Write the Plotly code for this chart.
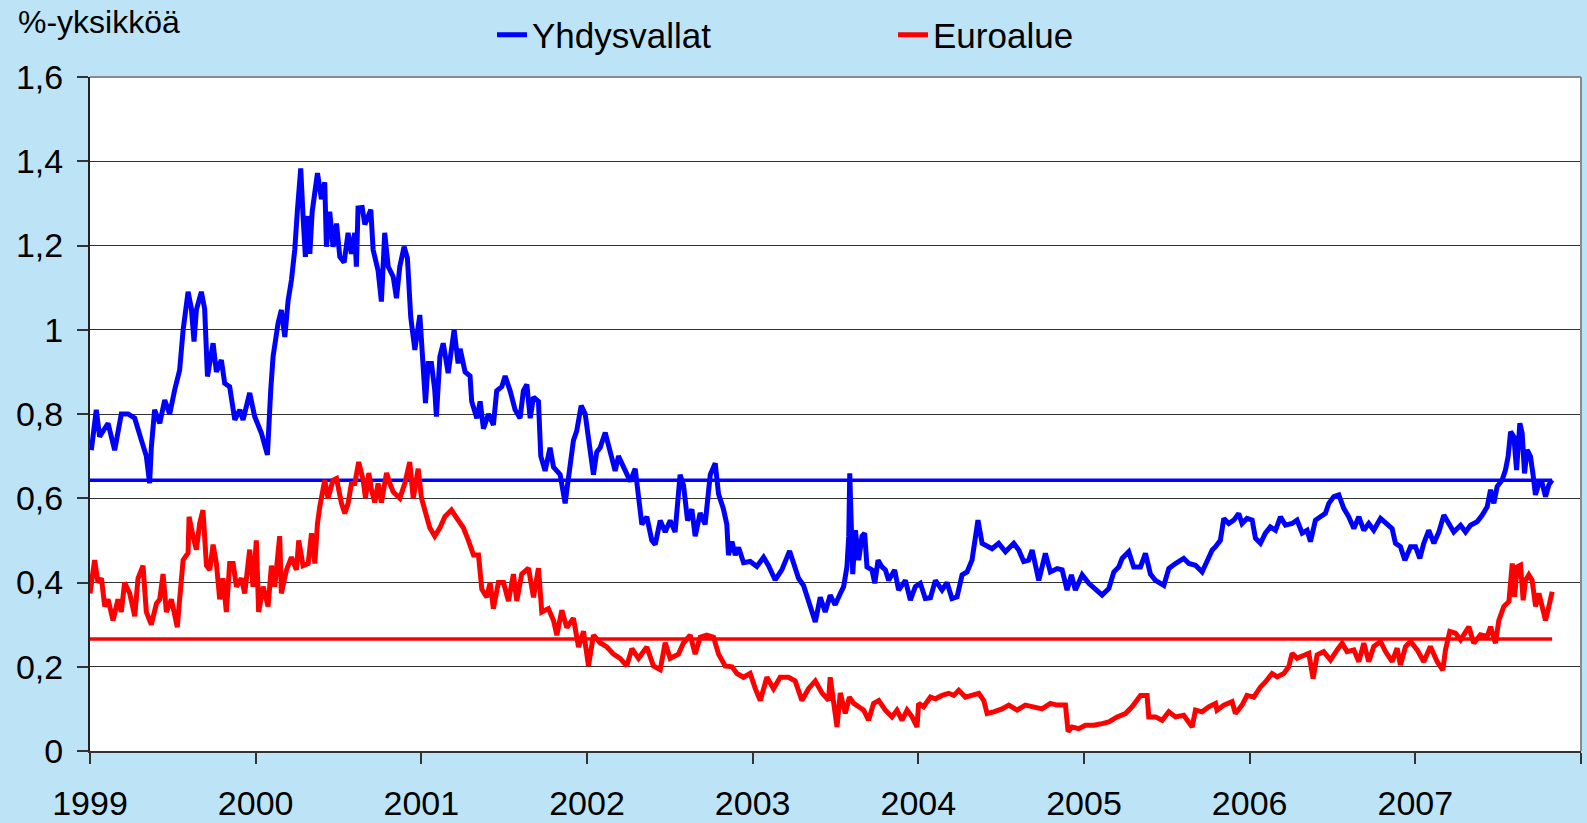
import plotly.graph_objects as go

# ---------------- data (years since 1999, value in %-units) ----------------
us_t = [0.008, 0.038, 0.058, 0.109, 0.149, 0.189, 0.23, 0.27, 0.31, 0.34, 0.36, 0.37, 0.39, 0.421, 0.451,
        0.481, 0.511, 0.541, 0.562, 0.592, 0.612, 0.628, 0.642, 0.672, 0.692, 0.709, 0.743, 0.763, 0.793,
        0.813, 0.843, 0.874, 0.904, 0.924, 0.964, 0.994, 1.035, 1.071, 1.091, 1.105, 1.135, 1.155, 1.176,
        1.196, 1.216, 1.236, 1.252, 1.272, 1.286, 1.3, 1.317, 1.327, 1.341, 1.373, 1.397, 1.417, 1.427,
        1.447, 1.467, 1.488, 1.508, 1.534, 1.558, 1.578, 1.598, 1.608, 1.618, 1.643, 1.659, 1.679, 1.695,
        1.709, 1.739, 1.759, 1.779, 1.8, 1.83, 1.85, 1.87, 1.896, 1.916, 1.936, 1.961, 1.991, 2.011, 2.025,
        2.041, 2.061, 2.081, 2.091, 2.112, 2.132, 2.162, 2.198, 2.222,
        2.234, 2.264, 2.294, 2.304, 2.335, 2.355, 2.375, 2.405, 2.435, 2.455, 2.486, 2.506, 2.536, 2.566,
        2.596, 2.616, 2.637, 2.657, 2.677, 2.707, 2.721, 2.747, 2.777, 2.798, 2.838, 2.868, 2.898, 2.918,
        2.938, 2.965, 2.989, 3.019, 3.039, 3.059, 3.079, 3.11, 3.14, 3.17, 3.19, 3.22, 3.261, 3.291, 3.311,
        3.331, 3.361, 3.391, 3.412, 3.442, 3.472, 3.502, 3.532, 3.562, 3.583, 3.607, 3.633, 3.653, 3.683,
        3.713, 3.744, 3.774, 3.794, 3.824, 3.844, 3.854, 3.875, 3.895, 3.915, 3.945, 3.985, 4.025, 4.066,
        4.096, 4.136, 4.176, 4.223, 4.247, 4.277, 4.307, 4.337, 4.378, 4.408, 4.438, 4.468, 4.498, 4.529,
        4.549, 4.569, 4.58, 4.586, 4.596, 4.604, 4.62, 4.64, 4.66, 4.676, 4.69, 4.72, 4.737, 4.757, 4.781,
        4.801, 4.821, 4.857, 4.881, 4.922, 4.952, 4.982, 5.012, 5.042, 5.073, 5.103, 5.143, 5.173, 5.203,
        5.234, 5.264, 5.294, 5.324, 5.344, 5.36, 5.385, 5.415, 5.445, 5.485, 5.526, 5.576, 5.606, 5.636,
        5.666, 5.687, 5.727, 5.767, 5.797, 5.838, 5.868, 5.898, 5.924, 5.948, 5.989, 6.029, 6.069, 6.109,
        6.15, 6.18, 6.21, 6.23, 6.27, 6.3, 6.341, 6.371, 6.401, 6.431, 6.482, 6.512, 6.552, 6.602, 6.633,
        6.673, 6.713, 6.743, 6.774, 6.794, 6.823, 6.844, 6.874, 6.904, 6.934, 6.954, 6.984, 7.015, 7.035,
        7.065, 7.095, 7.125, 7.156, 7.186, 7.216, 7.256, 7.286, 7.317, 7.347, 7.367, 7.397, 7.427, 7.457,
        7.478, 7.508, 7.538, 7.568, 7.598, 7.629, 7.659, 7.689, 7.719, 7.749, 7.79, 7.83, 7.86, 7.88, 7.91,
        7.937, 7.971, 8.001, 8.027, 8.051, 8.081, 8.112, 8.142, 8.172, 8.202, 8.232, 8.273, 8.303, 8.333,
        8.373, 8.404, 8.434, 8.454, 8.474, 8.494, 8.524, 8.544, 8.56, 8.575, 8.595, 8.611, 8.631, 8.645,
        8.659, 8.675, 8.695, 8.711, 8.725, 8.746, 8.766, 8.786, 8.806, 8.826]
us_v = [0.714, 0.81, 0.746, 0.778, 0.714, 0.80, 0.80, 0.79, 0.738, 0.70, 0.636, 0.72, 0.81, 0.778, 0.833,
        0.80, 0.857, 0.904, 0.999, 1.09, 1.05, 0.972, 1.047, 1.09, 1.05, 0.889, 0.968, 0.90, 0.928,
        0.873, 0.865, 0.786, 0.81, 0.786, 0.85, 0.794, 0.754, 0.703, 0.857, 0.936, 1.015, 1.047, 0.983,
        1.07, 1.118, 1.19, 1.284, 1.383, 1.27, 1.173, 1.27, 1.18, 1.28, 1.372, 1.31, 1.35, 1.197,
        1.28, 1.197, 1.252, 1.173, 1.16, 1.23, 1.18, 1.23, 1.15, 1.289, 1.29, 1.25, 1.27, 1.285,
        1.19, 1.14, 1.067, 1.23, 1.15, 1.126, 1.075, 1.15, 1.197, 1.17, 1.03, 0.952, 1.035, 0.93, 0.826,
        0.92, 0.92, 0.857, 0.794, 0.936, 0.968, 0.897, 1.0, 0.92,
        0.955, 0.90, 0.89, 0.83, 0.79, 0.83, 0.765, 0.80, 0.774, 0.855, 0.865, 0.89, 0.855, 0.81,
        0.79, 0.855, 0.87, 0.79, 0.84, 0.83, 0.70, 0.665, 0.72, 0.674, 0.656, 0.588, 0.674, 0.737,
        0.76, 0.82, 0.80, 0.71, 0.656, 0.71, 0.72, 0.756, 0.71, 0.665, 0.70, 0.674, 0.64, 0.67, 0.61,
        0.538, 0.556, 0.50, 0.49, 0.547, 0.52, 0.547, 0.52, 0.656, 0.63, 0.547, 0.574, 0.51, 0.565,
        0.538, 0.656, 0.683, 0.61, 0.574, 0.538, 0.465, 0.497, 0.465, 0.483, 0.447, 0.45, 0.438, 0.46,
        0.44, 0.406, 0.43, 0.475, 0.447, 0.41, 0.393, 0.356, 0.306, 0.365, 0.33, 0.37, 0.347, 0.374,
        0.39, 0.437, 0.51, 0.659, 0.548, 0.42, 0.524, 0.453, 0.51, 0.517, 0.437, 0.43, 0.398, 0.453, 0.437,
        0.43, 0.405, 0.43, 0.382, 0.405, 0.358, 0.39, 0.398, 0.362, 0.364, 0.405, 0.382, 0.40, 0.362,
        0.366, 0.418, 0.425, 0.453, 0.50, 0.548, 0.493, 0.485, 0.48, 0.493, 0.473, 0.493, 0.477, 0.45,
        0.453, 0.477, 0.405, 0.469, 0.425, 0.433, 0.43, 0.382, 0.418, 0.382, 0.418, 0.398, 0.382, 0.37,
        0.386, 0.425, 0.437, 0.457, 0.473, 0.437, 0.437, 0.469, 0.42, 0.405, 0.393, 0.433, 0.445, 0.457, 0.445,
        0.441, 0.425, 0.45, 0.477, 0.485, 0.50, 0.552, 0.54, 0.548, 0.564, 0.54, 0.552, 0.548, 0.505,
        0.493, 0.517, 0.532, 0.524, 0.556, 0.536, 0.54, 0.548, 0.517, 0.524, 0.497, 0.548, 0.556, 0.564,
        0.588, 0.604, 0.608, 0.576, 0.556, 0.528, 0.556, 0.524, 0.54, 0.524, 0.552, 0.536, 0.528, 0.493, 0.485,
        0.453, 0.485, 0.485, 0.457, 0.493, 0.524, 0.493, 0.52, 0.56, 0.54, 0.52, 0.536, 0.52, 0.536,
        0.544, 0.56, 0.58, 0.62, 0.588, 0.628, 0.643, 0.667, 0.699, 0.758, 0.746, 0.667, 0.778, 0.754,
        0.659, 0.715, 0.699, 0.655, 0.608, 0.635, 0.635, 0.604, 0.632, 0.643]

ea_t = [0.0, 0.028, 0.048, 0.069, 0.089, 0.109, 0.139, 0.169, 0.189, 0.209, 0.24, 0.27, 0.29, 0.32, 0.34,
        0.37, 0.401, 0.421, 0.441, 0.461, 0.491, 0.527, 0.541, 0.562, 0.592, 0.598, 0.622, 0.642, 0.662,
        0.682, 0.703, 0.723, 0.743, 0.763, 0.783, 0.803, 0.823, 0.843, 0.864, 0.884, 0.914, 0.934, 0.964,
        0.984, 1.004, 1.018, 1.045, 1.075, 1.095, 1.115, 1.145, 1.155, 1.186, 1.216, 1.246, 1.26, 1.286,
        1.317, 1.337, 1.357, 1.373, 1.387, 1.417, 1.437, 1.467, 1.488, 1.518, 1.538, 1.558, 1.578, 1.598,
        1.622, 1.649, 1.663, 1.683, 1.699, 1.719, 1.739, 1.759, 1.79, 1.81, 1.83, 1.87, 1.9, 1.93, 1.951,
        1.981, 2.001, 2.021, 2.051, 2.081, 2.112, 2.142, 2.182, 2.222,
        2.254, 2.284, 2.315, 2.345, 2.365, 2.395, 2.415, 2.435, 2.465, 2.496, 2.526, 2.556, 2.576, 2.606,
        2.647, 2.677, 2.707, 2.727, 2.767, 2.798, 2.818, 2.848, 2.878, 2.918, 2.949, 2.979, 3.009, 3.039,
        3.079, 3.12, 3.16, 3.2, 3.24, 3.271, 3.311, 3.361, 3.401, 3.442, 3.472, 3.502, 3.552, 3.583, 3.623,
        3.653, 3.683, 3.723, 3.764, 3.794, 3.834, 3.875, 3.905, 3.945, 3.985, 4.016, 4.046, 4.086, 4.126,
        4.166, 4.217, 4.257, 4.297, 4.337, 4.378, 4.418, 4.458, 4.468, 4.488, 4.509, 4.529,
        4.559, 4.584, 4.61, 4.64, 4.67, 4.70, 4.73, 4.761, 4.801, 4.841, 4.871, 4.902, 4.932, 4.962, 4.992,
        5.002, 5.032, 5.073, 5.103, 5.143, 5.183, 5.214, 5.244, 5.284, 5.324, 5.365, 5.395, 5.415, 5.455,
        5.505, 5.546, 5.596, 5.646, 5.697, 5.747, 5.797, 5.838, 5.888, 5.904, 5.928, 5.968, 6.009, 6.059,
        6.109, 6.15, 6.2, 6.25, 6.29, 6.321, 6.341, 6.381, 6.391, 6.431, 6.472, 6.512, 6.552, 6.602, 6.653,
        6.673, 6.713, 6.753, 6.794,
        6.803, 6.844, 6.894, 6.914, 6.954, 6.984, 7.025, 7.065, 7.095, 7.135, 7.166, 7.206, 7.236, 7.256,
        7.286, 7.327, 7.357, 7.383, 7.407, 7.447, 7.488, 7.528, 7.558, 7.588, 7.629, 7.659, 7.689, 7.719,
        7.749, 7.79, 7.82, 7.86, 7.89, 7.91, 7.941, 7.971, 8.011, 8.051, 8.091, 8.132, 8.166, 8.182, 8.208,
        8.242, 8.273, 8.323, 8.353, 8.393, 8.434, 8.454, 8.484, 8.504, 8.534, 8.565, 8.585, 8.599, 8.615,
        8.635, 8.651, 8.665, 8.685, 8.705, 8.726, 8.746, 8.766, 8.786, 8.806, 8.826]
ea_v = [0.374, 0.453, 0.40, 0.41, 0.343, 0.36, 0.31, 0.36, 0.33, 0.40, 0.374, 0.32, 0.41, 0.44, 0.33,
        0.30, 0.35, 0.36, 0.42, 0.33, 0.36, 0.294, 0.36, 0.453, 0.47, 0.556, 0.51, 0.478, 0.54,
        0.572, 0.44, 0.43, 0.49, 0.445, 0.36, 0.41, 0.33, 0.445, 0.445, 0.39, 0.41, 0.374, 0.478,
        0.39, 0.50, 0.33, 0.39, 0.343, 0.44, 0.39, 0.51, 0.374, 0.43, 0.46, 0.43, 0.50, 0.44,
        0.445, 0.517, 0.445, 0.54, 0.58, 0.643, 0.60, 0.643, 0.647, 0.588, 0.564, 0.588, 0.635, 0.635,
        0.686, 0.643, 0.60, 0.66, 0.62, 0.59, 0.635, 0.59, 0.66, 0.635, 0.615, 0.60, 0.635, 0.686, 0.60,
        0.67, 0.60, 0.572, 0.53, 0.51, 0.53, 0.556, 0.572, 0.548,
        0.53, 0.50, 0.465, 0.465, 0.384, 0.365, 0.40, 0.338, 0.40, 0.40, 0.356, 0.42, 0.356, 0.42,
        0.434, 0.365, 0.434, 0.33, 0.338, 0.31, 0.275, 0.334, 0.293, 0.315, 0.247, 0.284, 0.202, 0.275,
        0.257, 0.247, 0.23, 0.22, 0.202, 0.243, 0.22, 0.247, 0.202, 0.193, 0.257, 0.22, 0.23, 0.257, 0.275,
        0.23, 0.27, 0.275, 0.27, 0.23, 0.202, 0.20, 0.184, 0.175, 0.184, 0.148, 0.12, 0.175, 0.148,
        0.175, 0.175, 0.166, 0.12, 0.148, 0.166, 0.138, 0.12, 0.175, 0.11, 0.057, 0.138,
        0.089, 0.128, 0.113, 0.105, 0.097, 0.073, 0.113, 0.12, 0.097, 0.081, 0.097, 0.073, 0.097, 0.081, 0.057,
        0.113, 0.105, 0.128, 0.124, 0.132, 0.137, 0.132, 0.144, 0.128, 0.132, 0.137, 0.12, 0.089, 0.093,
        0.10, 0.109, 0.097, 0.109, 0.105, 0.10, 0.113, 0.109, 0.109, 0.046, 0.057, 0.053, 0.061, 0.061,
        0.065, 0.069, 0.081, 0.089, 0.105, 0.12, 0.132, 0.132, 0.081, 0.081, 0.073, 0.093, 0.081, 0.085, 0.057,
        0.097, 0.093, 0.105, 0.113,
        0.097, 0.109, 0.117, 0.089, 0.109, 0.132, 0.128, 0.152, 0.164, 0.184, 0.176, 0.184, 0.20, 0.232,
        0.22, 0.228, 0.232, 0.172, 0.228, 0.236, 0.216, 0.24, 0.256, 0.236, 0.24, 0.212, 0.256, 0.212,
        0.248, 0.26, 0.236, 0.212, 0.244, 0.204, 0.248, 0.26, 0.24, 0.212, 0.248, 0.212, 0.192, 0.24, 0.284,
        0.28, 0.264, 0.295, 0.256, 0.276, 0.272, 0.295, 0.256, 0.31, 0.343, 0.355, 0.445, 0.366, 0.437,
        0.441, 0.358, 0.405, 0.418, 0.405, 0.343, 0.374, 0.335, 0.31, 0.343, 0.378]

avg_t = [0.0, 8.826]
us_avg = [0.643, 0.643]
ea_avg = [0.266, 0.266]

year_ticks = [1999, 2000, 2001, 2002, 2003, 2004, 2005, 2006, 2007, 2008]
year_labels = ["1999", "2000", "2001", "2002", "2003", "2004", "2005", "2006", "2007", ""]
y_ticks = [0, 0.2, 0.4, 0.6, 0.8, 1.0, 1.2, 1.4, 1.6]
y_labels = ["0", "0,2", "0,4", "0,6", "0,8", "1", "1,2", "1,4", "1,6"]

BASE = 1999
BLUE = "#0000FF"
RED = "#FF0000"
FONT = "Liberation Sans, Arial, sans-serif"

us_x = [BASE + t for t in us_t]
ea_x = [BASE + t for t in ea_t]
avg_x = [BASE + t for t in avg_t]

fig = go.Figure()
fig.add_trace(go.Scatter(x=avg_x, y=us_avg, mode="lines", line=dict(color=BLUE, width=3.5),
                         showlegend=False, hoverinfo="skip"))
fig.add_trace(go.Scatter(x=avg_x, y=ea_avg, mode="lines", line=dict(color=RED, width=3.5),
                         showlegend=False, hoverinfo="skip"))
fig.add_trace(go.Scatter(x=us_x, y=us_v, mode="lines", name="Yhdysvallat",
                         line=dict(color=BLUE, width=5), legend="legend"))
fig.add_trace(go.Scatter(x=ea_x, y=ea_v, mode="lines", name="Euroalue",
                         line=dict(color=RED, width=5), legend="legend2"))

L, R, T, B = 90, 6, 77, 72
W, H = 1587, 823
pw = W - L - R
ph = H - T - B

def px_x(x):
    return (x - L) / pw

def px_y(y):
    return (H - B - y) / ph

legend_common = dict(orientation="h", font=dict(family=FONT, size=35, color="black"),
                     bgcolor="rgba(0,0,0,0)", yanchor="middle", xanchor="left",
                     itemwidth=30, tracegroupgap=0)
fig.update_layout(
    width=W, height=H,
    margin=dict(l=L, r=R, t=T, b=B, pad=0, autoexpand=False),
    paper_bgcolor="#bde4f6",
    plot_bgcolor="white",
    font=dict(family=FONT, color="black"),
    legend=dict(x=px_x(492), y=px_y(35), **legend_common),
    legend2=dict(x=px_x(893), y=px_y(35), **legend_common),
    xaxis=dict(range=[1999, 2008], tickmode="array", tickvals=year_ticks, ticktext=year_labels,
               showgrid=False, zeroline=False, showline=True, linecolor="#333333", linewidth=2,
               ticks="outside", ticklen=11, tickwidth=1.5, tickcolor="#333333", automargin=False,
               tickfont=dict(family=FONT, size=34, color="black"), ticklabelstandoff=10),
    yaxis=dict(range=[0, 1.6], tickmode="array", tickvals=y_ticks, ticktext=y_labels,
               showgrid=True, gridcolor="#333333", gridwidth=1, zeroline=False,
               showline=True, linecolor="#222222", linewidth=2, automargin=False,
               ticks="outside", ticklen=11, tickwidth=1.5, tickcolor="#333333",
               tickfont=dict(family=FONT, size=34, color="black"), ticklabelstandoff=7),
    annotations=[dict(text="%-yksikköä", xref="paper", yref="paper", x=px_x(16), y=px_y(22),
                      xanchor="left", yanchor="middle", showarrow=False,
                      font=dict(family=FONT, size=32, color="black"))],
    shapes=[dict(type="line", xref="paper", yref="paper", x0=0, x1=1, y0=1, y1=1,
                 line=dict(color="#8a8a8a", width=2)),
            dict(type="line", xref="paper", yref="paper", x0=1, x1=1, y0=0, y1=1,
                 line=dict(color="#8a8a8a", width=2))],
)

fig.write_html("out.html", config={"displayModeBar": False},
               post_script="document.body.style.margin='0';document.body.style.padding='0';"
                           "document.documentElement.style.overflow='hidden';")
